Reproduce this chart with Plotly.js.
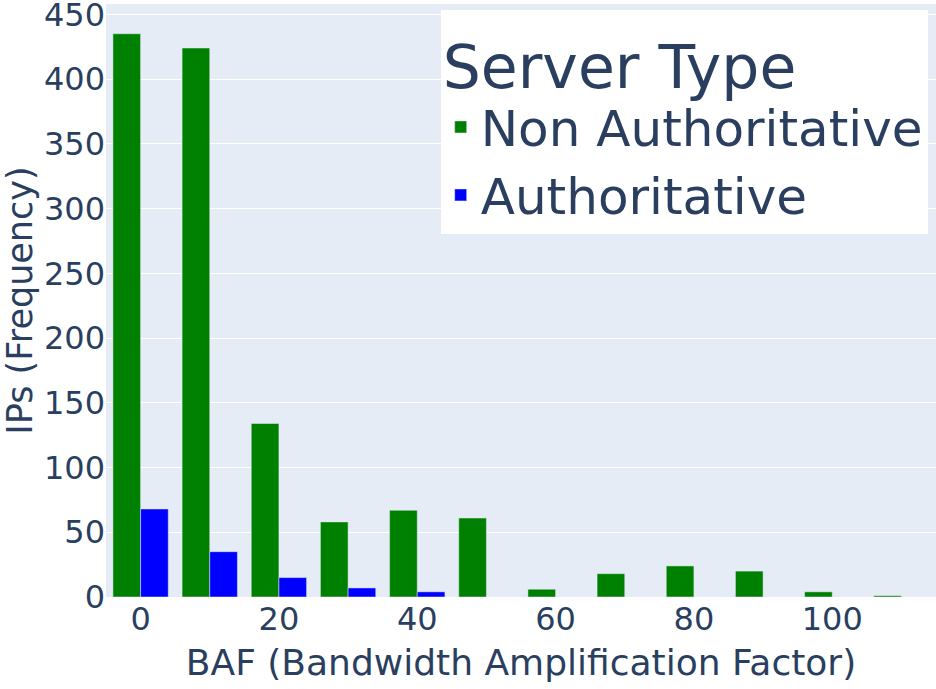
<!DOCTYPE html>
<html>
<head>
<meta charset="utf-8">
<script src="https://cdn.plot.ly/plotly-3.0.1.min.js"></script>
<style>html,body{margin:0;padding:0;background:#fff;}#chart{width:936px;height:689px;}</style>
</head>
<body>
<div id="chart"></div>
<script>
const baf = [0, 10, 20, 30, 40, 50, 60, 70, 80, 90, 100, 110];
const nonAuthoritative = [435, 424, 134, 58, 67, 61, 6, 18, 24, 20, 4, 1];
const authoritative = [68, 35, 15, 7, 4, 0, 0, 0, 0, 0, 0, 0];
const xTicks = [0, 20, 40, 60, 80, 100];
const yTicks = [0, 50, 100, 150, 200, 250, 300, 350, 400, 450];

const font = 'DejaVu Sans, Verdana, sans-serif';
const textColor = '#2a3f5f';

const traces = [
  {type: 'bar', name: 'Non Authoritative', x: baf, y: nonAuthoritative,
   marker: {color: 'green', line: {color: '#E5ECF6', width: 0.5}}},
  {type: 'bar', name: 'Authoritative', x: baf, y: authoritative,
   marker: {color: 'blue', line: {color: '#E5ECF6', width: 0.5}}}
];

const layout = {
  width: 936, height: 689,
  margin: {l: 106, r: 0, t: 4, b: 92},
  paper_bgcolor: '#fff', plot_bgcolor: '#E5ECF6',
  font: {family: font, color: textColor, size: 32},
  barmode: 'group', bargap: 0.2,
  xaxis: {range: [-5, 115], tickvals: xTicks, showgrid: false, zeroline: false,
          ticks: '', tickfont: {size: 32}, ticklabeloverflow: 'allow',
          title: {text: 'BAF (Bandwidth Amplification Factor)', font: {size: 36}, standoff: 12}},
  yaxis: {range: [0, 458], tickvals: yTicks, gridcolor: '#fff', gridwidth: 1, zeroline: false,
          ticks: '', tickfont: {size: 32}, ticklabeloverflow: 'allow',
          title: {text: 'IPs (Frequency)', font: {size: 35}, standoff: 10}},
  legend: {x: 0.99, y: 0.99, xanchor: 'right', yanchor: 'top', bgcolor: '#fff',
           font: {size: 50}, title: {text: 'Server Type', font: {size: 60}}},
  showlegend: true
};

Plotly.newPlot('chart', traces, layout, {displayModeBar: false});
</script>
</body>
</html>
